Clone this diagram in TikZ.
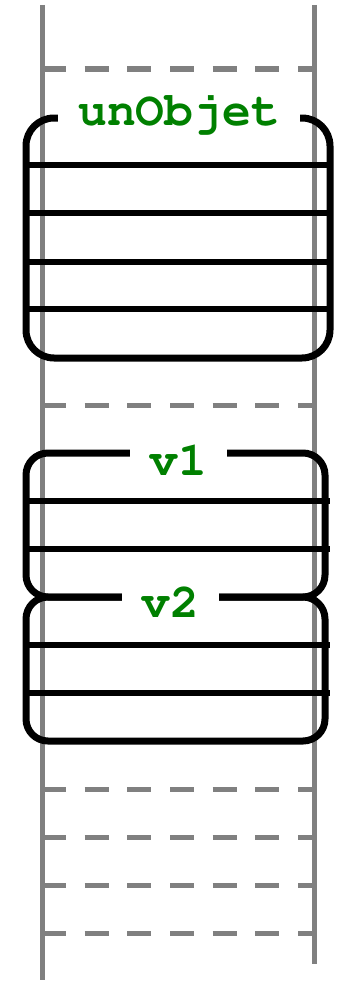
\documentclass[tikz,border=0pt]{standalone}
\usepackage[T1]{fontenc}
\definecolor{titlegreen}{RGB}{0,128,0}
\definecolor{lanegray}{RGB}{128,128,128}
\tikzset{
  lane/.style={draw=lanegray, line width=5pt},
  lanedash/.style={lane, dash pattern=on 24pt off 18.67pt},
  objbox/.style={draw=black, line width=7pt, inner sep=0pt, rectangle},
  sepline/.style={draw=black, line width=5.5pt},
  boxtitle/.style={fill=white, text=titlegreen, inner xsep=0pt, inner ysep=4pt,
    anchor=base, font=\fontfamily{pcr}\fontseries{b}\fontsize{48}{48}\selectfont}
}
\begin{document}
\begin{tikzpicture}[x=1pt,y=-1pt]
\useasboundingbox (0,0) rectangle (337,982);
% lanes
\draw[lane] (42,5) -- (42,980);
\draw[lane] (314,5) -- (314,964);
\foreach \yy in {69,405,789,837,885,933}
  \draw[lanedash] (42,\yy) -- (314,\yy);
% boxes
\node[objbox, rounded corners=28pt, minimum width=304pt, minimum height=240pt] (obj) at (178,238) {};
\node[objbox, rounded corners=22pt, minimum width=299pt, minimum height=144pt] (v1) at (175.5,525) {};
\node[objbox, rounded corners=22pt, minimum width=299pt, minimum height=144pt] (v2) at (175.5,669) {};
% separators
\foreach \yy in {165,213,262,309}
  \draw[sepline] (26,\yy) -- (330,\yy);
\foreach \yy in {501,549,645,693}
  \draw[sepline] (26,\yy) -- (330,\yy);
% titles
\node[boxtitle, minimum width=242pt] (objtitle) at (179,125) {unObjet};
\node[boxtitle, minimum width=97pt] (v1title) at (178.5,475) {v1};
\node[boxtitle, minimum width=97pt] (v2title) at (170.5,617) {v2};
\end{tikzpicture}
\end{document}
